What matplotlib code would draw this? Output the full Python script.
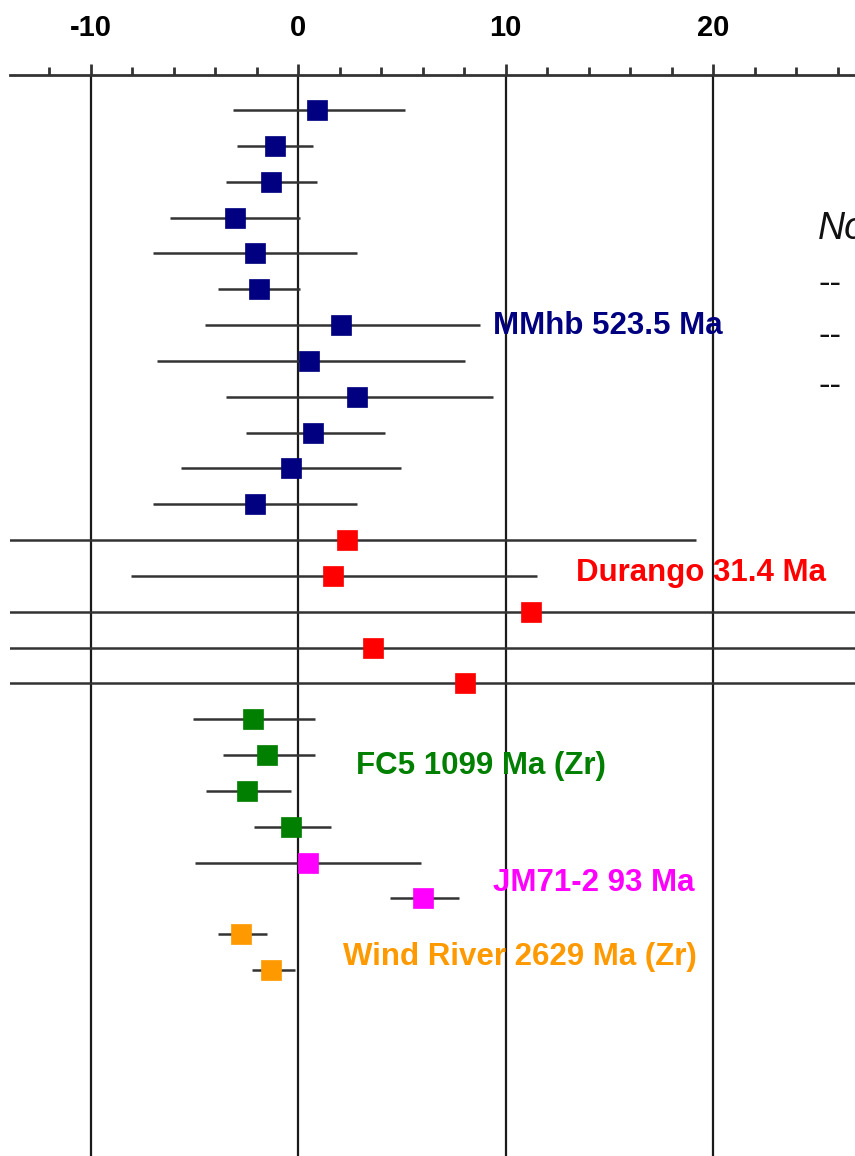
import numpy as np
import matplotlib.pyplot as plt
from matplotlib.ticker import MultipleLocator

plt.rcParams["font.family"] = ["Liberation Sans", "DejaVu Sans"]
plt.rcParams["axes.unicode_minus"] = False

# deviation values (centre, lower bound, upper bound)
mmhb_val = [0.92, -1.1, -1.3, -3.04, -2.07, -1.88, 2.07, 0.53, 2.84, 0.72, -0.34, -2.07]
mmhb_lo = [-3.13, -2.94, -3.47, -6.17, -6.99, -3.86, -4.48, -6.8, -3.47, -2.5, -5.64, -6.99]
mmhb_hi = [5.16, 0.72, 0.92, 0.1, 2.84, 0.1, 8.77, 8.05, 9.4, 4.19, 4.96, 2.84]

dur_val = [2.36, 1.69, 11.23, 3.61, 8.05]
dur_lo = [-14.5, -8.05, -40.0, -40.0, -40.0]
dur_hi = [19.2, 11.5, 60.0, 60.0, 60.0]

fc5_val = [-2.17, -1.49, -2.46, -0.34]
fc5_lo = [-5.06, -3.61, -4.43, -2.12]
fc5_hi = [0.82, 0.82, -0.34, 1.59]

jm_val = [0.48, 6.02]
jm_lo = [-4.96, 4.43]
jm_hi = [5.93, 7.76]

wr_val = [-2.75, -1.3]
wr_lo = [-3.86, -2.22]
wr_hi = [-1.49, -0.14]

groups = [
    ("MMhb 523.5 Ma", "#000080", mmhb_val, mmhb_lo, mmhb_hi, (9.4, 6.03)),
    ("Durango 31.4 Ma", "#FF0000", dur_val, dur_lo, dur_hi, (13.4, 12.92)),
    ("FC5 1099 Ma (Zr)", "#007F00", fc5_val, fc5_lo, fc5_hi, (2.8, 18.31)),
    ("JM71-2 93 Ma", "#FF00FF", jm_val, jm_lo, jm_hi, (9.4, 21.57)),
    ("Wind River 2629 Ma (Zr)", "#FF9900", wr_val, wr_lo, wr_hi, (2.17, 23.64)),
]

fig = plt.figure(figsize=(8.55, 11.56), dpi=100)
ax = fig.add_axes([10 / 855, 0.0, 845 / 855, 1 - 75 / 1156])

ax.set_xlim(-13.88, 26.84)
ax.set_ylim(29.19, -0.98)

for x in [-10, 0, 10, 20]:
    ax.axvline(x, color="#1a1a1a", lw=1.6, zorder=1)

row = 0
for name, color, vals, lo, hi, (tx, ty) in groups:
    ys = np.arange(row, row + len(vals))
    ax.hlines(ys, lo, hi, color="#333333", lw=1.8, zorder=2)
    ax.plot(vals, ys, "s", color=color, ms=14.5, mec=color, mew=0.5, zorder=3)
    ax.text(tx, ty, name, color=color, fontsize=22.5, fontweight="bold",
            va="center", ha="left")
    row += len(vals)

# notes column, cut off at the right edge of the picture
ax.text(25.06, 3.32, "Notes:", fontsize=27, style="italic", va="center", ha="left",
        color="#111111")
for y in [4.83, 6.28, 7.68]:
    ax.text(25.06, y, "--", fontsize=25, va="center", ha="left", color="#111111")

for s in ["left", "right", "bottom"]:
    ax.spines[s].set_visible(False)
ax.spines["top"].set_linewidth(2)
ax.spines["top"].set_color("#333333")
ax.set_yticks([])
ax.xaxis.set_ticks_position("top")
ax.xaxis.set_major_locator(MultipleLocator(10))
ax.xaxis.set_minor_locator(MultipleLocator(2))
ax.tick_params(axis="x", which="major", direction="out", length=8, width=2,
               color="#333333", pad=16, labelsize=21)
ax.tick_params(axis="x", which="minor", direction="out", length=6, width=2,
               color="#333333")
for lbl in ax.get_xticklabels():
    lbl.set_fontweight("bold")

fig.savefig("out.png", dpi=100)
